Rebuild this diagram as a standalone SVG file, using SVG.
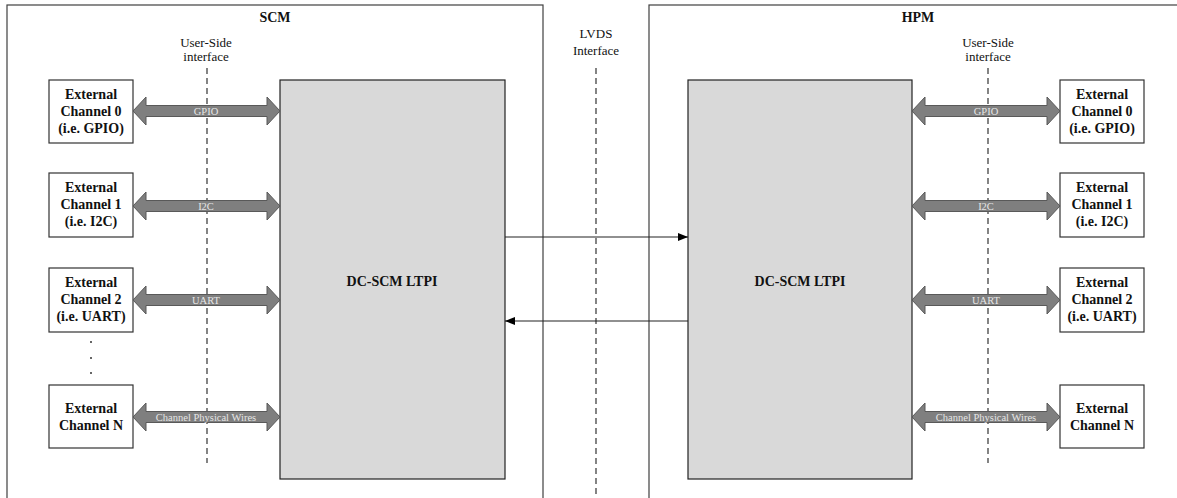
<svg xmlns="http://www.w3.org/2000/svg" width="1177" height="498" viewBox="0 0 1177 498">
<defs>
<style>
.frame{fill:#fff;stroke:#404040;stroke-width:1.2}
.ltpi{fill:#d9d9d9;stroke:#222;stroke-width:1.2}
.ext{fill:#fff;stroke:#333;stroke-width:1.2}
.dash{stroke:#333;stroke-width:1.2;stroke-dasharray:6,4;fill:none}
.bar{fill:#7f7f7f;stroke:#595959;stroke-width:1}
.t{font-family:"Liberation Serif","Times New Roman",serif;fill:#111}
.b{font-weight:bold;font-size:14px;text-anchor:middle}
.r{font-size:13px;text-anchor:middle}
.al{font-family:"Liberation Serif","Times New Roman",serif;font-size:10.5px;fill:#e6e6e6;text-anchor:middle}
.wire{stroke:#222;stroke-width:1.2;fill:none}
</style>
<marker id="ah" viewBox="0 0 10 8" refX="10" refY="4" markerWidth="10" markerHeight="8" markerUnits="userSpaceOnUse" orient="auto">
<path d="M0,0 L10,4 L0,8 Z" fill="#000"/>
</marker>
<polygon id="dbl" class="bar" points="0,0 13,-14 13,-5.5 134,-5.5 134,-14 147,0 134,14 134,5.5 13,5.5 13,14"/>
<polygon id="dblr" class="bar" points="0,0 13,-14 13,-5.5 135,-5.5 135,-14 148,0 135,14 135,5.5 13,5.5 13,14"/>
</defs>
<rect width="1177" height="498" fill="#fff"/>

<g id="scm">
<rect class="frame" x="7" y="5" width="536" height="510"/>
<text class="t b" x="275" y="22">SCM</text>
</g>
<g id="hpm">
<rect class="frame" x="649" y="5" width="560" height="510"/>
<text class="t b" x="918" y="22">HPM</text>
</g>

<g id="interfaces">
<text class="t r" x="206" y="47">User-Side</text>
<text class="t r" x="206" y="61">interface</text>
<line class="dash" x1="207" y1="68" x2="207" y2="463"/>
<text class="t r" x="596" y="38">LVDS</text>
<text class="t r" x="596" y="55">Interface</text>
<line class="dash" x1="596" y1="68" x2="596" y2="498"/>
<text class="t r" x="988" y="47">User-Side</text>
<text class="t r" x="988" y="61">interface</text>
<line class="dash" x1="988" y1="68" x2="988" y2="463"/>
</g>

<g id="ltpi-scm">
<rect class="ltpi" x="280" y="80" width="225" height="399"/>
<text class="t b" x="392" y="286">DC-SCM LTPI</text>
</g>
<g id="ltpi-hpm">
<rect class="ltpi" x="688" y="80" width="224" height="399"/>
<text class="t b" x="800" y="286">DC-SCM LTPI</text>
</g>

<g id="ext-l0">
<rect class="ext" x="49" y="80" width="84" height="63"/>
<text class="t b" x="91" y="99">External</text>
<text class="t b" x="91" y="116">Channel 0</text>
<text class="t b" x="91" y="133">(i.e. GPIO)</text>
</g>
<g id="ext-l1">
<rect class="ext" x="49" y="173" width="84" height="64"/>
<text class="t b" x="91" y="192">External</text>
<text class="t b" x="91" y="209">Channel 1</text>
<text class="t b" x="91" y="226">(i.e. I2C)</text>
</g>
<g id="ext-l2">
<rect class="ext" x="49" y="268" width="84" height="64"/>
<text class="t b" x="91" y="287">External</text>
<text class="t b" x="91" y="304">Channel 2</text>
<text class="t b" x="91" y="321">(i.e. UART)</text>
</g>
<g id="dots">
<circle cx="91" cy="342" r="1" fill="#333"/>
<circle cx="91" cy="358" r="1" fill="#333"/>
<circle cx="91" cy="373" r="1" fill="#333"/>
</g>
<g id="ext-ln">
<rect class="ext" x="49" y="385" width="84" height="63"/>
<text class="t b" x="91" y="413">External</text>
<text class="t b" x="91" y="430">Channel N</text>
</g>

<g id="ext-r0">
<rect class="ext" x="1060" y="80" width="84" height="63"/>
<text class="t b" x="1102" y="99">External</text>
<text class="t b" x="1102" y="116">Channel 0</text>
<text class="t b" x="1102" y="133">(i.e. GPIO)</text>
</g>
<g id="ext-r1">
<rect class="ext" x="1060" y="173" width="84" height="64"/>
<text class="t b" x="1102" y="192">External</text>
<text class="t b" x="1102" y="209">Channel 1</text>
<text class="t b" x="1102" y="226">(i.e. I2C)</text>
</g>
<g id="ext-r2">
<rect class="ext" x="1060" y="268" width="84" height="64"/>
<text class="t b" x="1102" y="287">External</text>
<text class="t b" x="1102" y="304">Channel 2</text>
<text class="t b" x="1102" y="321">(i.e. UART)</text>
</g>
<g id="ext-rn">
<rect class="ext" x="1060" y="385" width="84" height="63"/>
<text class="t b" x="1102" y="413">External</text>
<text class="t b" x="1102" y="430">Channel N</text>
</g>

<g id="connectors">
<use href="#dbl" x="133" y="111"/>
<text class="al" x="206" y="114.5">GPIO</text>
<use href="#dbl" x="133" y="206"/>
<text class="al" x="206" y="209.5">I2C</text>
<use href="#dbl" x="133" y="300"/>
<text class="al" x="206" y="303.5">UART</text>
<use href="#dbl" x="133" y="417"/>
<text class="al" x="206" y="420.5">Channel Physical Wires</text>

<use href="#dblr" x="912" y="111"/>
<text class="al" x="986" y="114.5">GPIO</text>
<use href="#dblr" x="912" y="206"/>
<text class="al" x="986" y="209.5">I2C</text>
<use href="#dblr" x="912" y="300"/>
<text class="al" x="986" y="303.5">UART</text>
<use href="#dblr" x="912" y="417"/>
<text class="al" x="986" y="420.5">Channel Physical Wires</text>

<line class="wire" x1="505" y1="237" x2="688" y2="237" marker-end="url(#ah)"/>
<line class="wire" x1="688" y1="321" x2="505" y2="321" marker-end="url(#ah)"/>
</g>
</svg>
